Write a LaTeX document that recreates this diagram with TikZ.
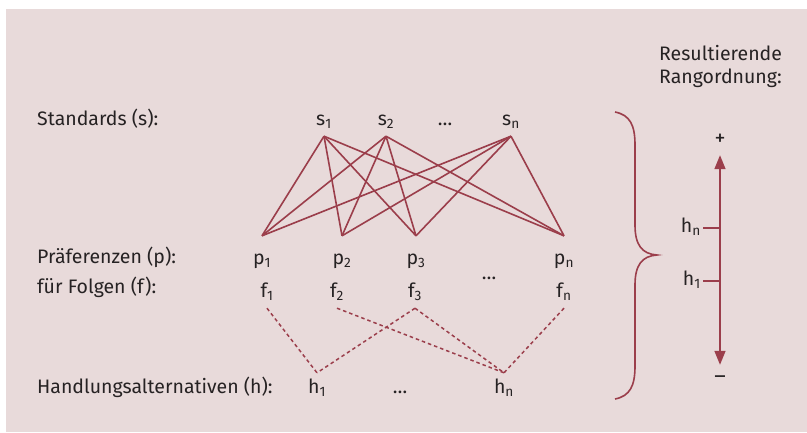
\documentclass[tikz,border=0pt]{standalone}
\usepackage{fontspec}
\setmainfont{Fira Sans}
\usetikzlibrary{arrows.meta,positioning}

\definecolor{bgrose}{RGB}{232,218,218}
\definecolor{wine}{RGB}{155,62,75}
\definecolor{ink}{RGB}{38,34,35}

\tikzset{
  item/.style={inner xsep=2pt, inner ysep=7pt, text height=13pt, text depth=4pt,
    anchor=base, text=ink},
  rowlabel/.style={inner sep=0pt, anchor=base west, text=ink},
  link/.style={wine, line width=1.6pt},
  maybe/.style={wine, line width=1.5pt, dash pattern=on 3.5pt off 3pt},
  pole/.style={inner sep=0pt, minimum height=30pt, text=ink,
    font=\fontsize{22}{24}\selectfont},
}

\begin{document}
\begin{tikzpicture}[x=1pt, y=-1pt, font=\fontsize{19.5}{23}\selectfont]
\useasboundingbox (0,0) rectangle (807,432);
\fill[bgrose] (6,9) rectangle (807,432);

% row labels
\node[rowlabel] (lstd) at (37,125) {Standards (s):};
\node[rowlabel] (lpref) at (37,263) {Präferenzen (p):};
\node[rowlabel] (lfolg) at (37,293) {für Folgen (f):};
\node[rowlabel] (lhand) at (37,393) {Handlungsalternativen (h):};

% standards
\node[item] (s1) at (324,125) {s\textsubscript{1}};
\node[item] (s2) at (386,125) {s\textsubscript{2}};
\node[item] (sdots) at (445,125) {\dots};
\node[item] (sn) at (511,125) {s\textsubscript{n}};

% preferences
\node[item, inner ysep=15pt] (p1) at (262,264) {p\textsubscript{1}};
\node[item, inner ysep=15pt] (p2) at (342,264) {p\textsubscript{2}};
\node[item, inner ysep=15pt] (p3) at (416,264) {p\textsubscript{3}};
\node[item, inner ysep=15pt] (pn) at (564,264) {p\textsubscript{n}};
\node[inner sep=0pt, text=ink] (pdots) at (489,278) {\dots};

% consequences
\node[item] (f1) at (267,297) {f\textsubscript{1}};
\node[item] (f2) at (337,297) {f\textsubscript{2}};
\node[item] (f3) at (415,297) {f\textsubscript{3}};
\node[item] (fn) at (564,297) {f\textsubscript{n}};

% alternatives
\node[item] (h1) at (317,393) {h\textsubscript{1}};
\node[item] (hdots) at (400,393) {\dots};
\node[item] (hn) at (504,393) {h\textsubscript{n}};

% standards -> preferences
\foreach \s in {s1,s2,sn}
  \foreach \p in {p1,p2,p3,pn}
    \draw[link] (\s.south) -- (\p.north);

% consequences -> alternatives
\foreach \f/\h in {f1/h1, f3/h1, f2/hn, f3/hn, fn/hn}
  \draw[maybe] (\f.south) -- (\h.north);

% brace
\draw[link] (615,112) .. controls (630,115) and (635,125) .. (635,145)
  -- (635,225) .. controls (635,245) and (642,254) .. (657,255)
  .. controls (642,256) and (635,265) .. (635,285)
  -- (635,366) .. controls (635,386) and (630,396) .. (615,399);

% resulting order
\node[rowlabel] (res) at (659,60) {Resultierende};
\node[rowlabel] (rang) at (659,83) {Rangordnung:};
\node[pole] (plus) at (720,140) {+};
\node[pole] (minus) at (720,380) {--};
\draw[link, {Triangle[width=11pt,length=14pt]}-{Triangle[width=11pt,length=14pt]}]
  (plus) -- (minus);
\node[item, anchor=east] (rn) at (703,228) {h\textsubscript{n}};
\node[item, anchor=east] (r1) at (703,281) {h\textsubscript{1}};
\draw[link] (rn.east) -- (rn.east -| plus);
\draw[link] (r1.east) -- (r1.east -| plus);
\end{tikzpicture}
\end{document}
